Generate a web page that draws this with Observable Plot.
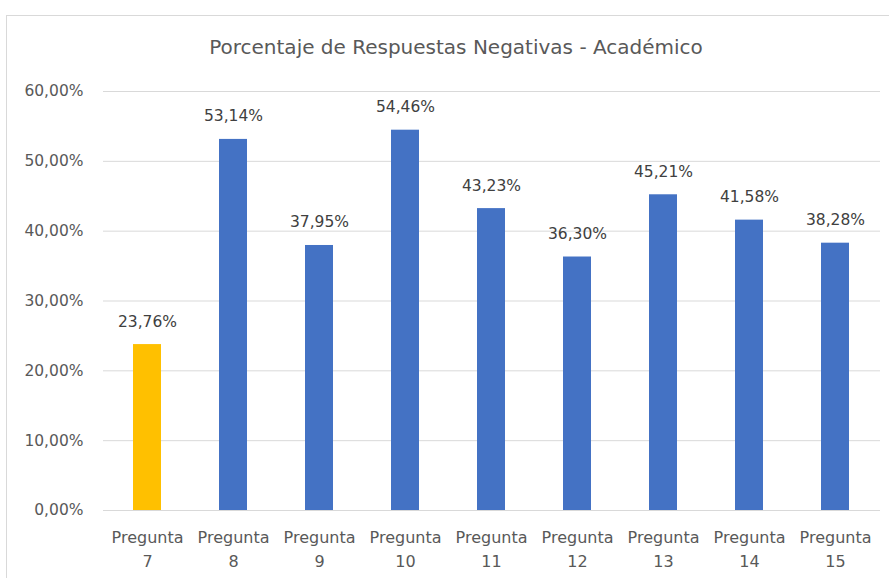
<!DOCTYPE html>
<html>
<head>
<meta charset="utf-8">
<script src="https://cdn.jsdelivr.net/npm/d3@7"></script>
<script src="https://cdn.jsdelivr.net/npm/@observablehq/plot@0.6"></script>
<style>
  html, body { margin: 0; padding: 0; background: #fff; overflow: hidden; }
  #frame { position: absolute; left: 6px; top: 15px; width: 900px; height: 600px; border: 1px solid #d9d9d9; box-sizing: border-box; }
  #title { position: absolute; left: 0; top: 0; width: 912px; height: 70px; text-align: center; font-family: "DejaVu Sans", sans-serif; font-size: 20px; color: #595959; padding-top: 35px; box-sizing: border-box; line-height: 24px; }
  #chart { position: absolute; left: 0; top: 70px; }
</style>
</head>
<body>
<div id="frame"></div>
<div id="title">Porcentaje de Respuestas Negativas - Académico</div>
<div id="chart"></div>
<script>
const categories = ["Pregunta 7", "Pregunta 8", "Pregunta 9", "Pregunta 10", "Pregunta 11", "Pregunta 12", "Pregunta 13", "Pregunta 14", "Pregunta 15"];
const values = [23.76, 53.14, 37.95, 54.46, 43.23, 36.30, 45.21, 41.58, 38.28];
const highlight = ["Pregunta 7"];
const yTicks = [0, 10, 20, 30, 40, 50, 60];

const data = categories.map((c, i) => ({cat: c, val: values[i], hi: highlight.includes(c)}));
const fmt = v => v.toFixed(2).replace(".", ",") + "%";

const chart = Plot.plot({
  width: 889,
  height: 508,
  marginLeft: 103,
  marginRight: 9,
  marginTop: 21,
  marginBottom: 68,
  style: { fontFamily: "'DejaVu Sans', sans-serif", fontSize: "15px", color: "#595959", background: "transparent" },
  x: { domain: categories, paddingInner: 0.67, paddingOuter: 0.335, label: null },
  y: { domain: [0, 60], label: null },
  marks: [
    Plot.gridY(yTicks, { stroke: "#d9d9d9", strokeOpacity: 1 }),
    Plot.barY(data, { x: "cat", y: "val", fill: d => d.hi ? "#FFC000" : "#4472C4" }),
    Plot.ruleY([0], { stroke: "#d9d9d9" }),
    Plot.text(data, { x: "cat", y: "val", text: d => fmt(d.val), dy: -23, fill: "#404040", fontSize: 15.5 }),
    Plot.axisY({ ticks: yTicks, tickSize: 0, tickPadding: 20, tickFormat: fmt, fill: "#595959", fontSize: 15.5 }),
    Plot.axisX({ tickSize: 0, tickPadding: 15, tickFormat: d => d.replace(" ", "\n"), fill: "#595959", fontSize: 16, lineHeight: 1.5 })
  ]
});
document.getElementById("chart").appendChild(chart);
</script>
</body>
</html>
